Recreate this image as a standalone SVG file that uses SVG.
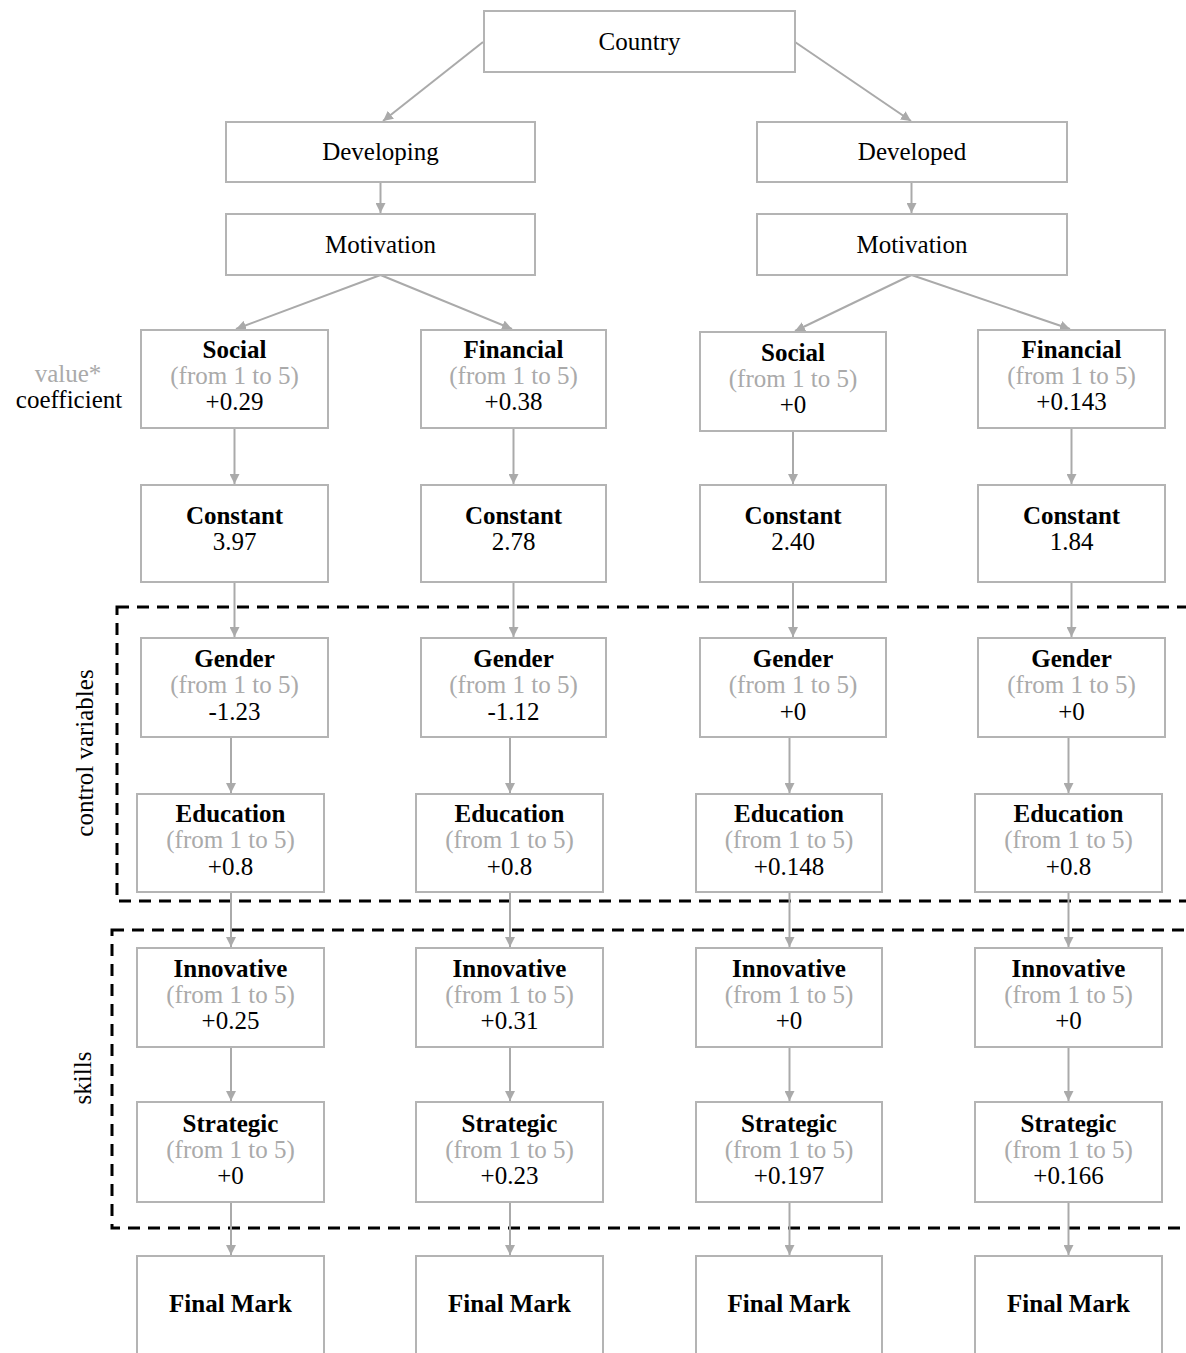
<svg xmlns="http://www.w3.org/2000/svg" width="1186" height="1353" viewBox="0 0 1186 1353">
<style>
.box{fill:#fff;stroke:#b4b4b4;stroke-width:2}
text{font-family:'Liberation Serif','DejaVu Serif',serif;font-size:25px;text-anchor:middle;fill:#000}
.t{font-weight:bold}
.g{fill:#aaa}
.c line{stroke:#aaa;stroke-width:2;marker-end:url(#ah)}
.d{fill:none;stroke:#000;stroke-width:3;stroke-dasharray:12 8}
</style>
<defs>
<marker id="ah" viewBox="0 0 10 10" refX="10" refY="5" markerWidth="5" markerHeight="5" orient="auto" markerUnits="strokeWidth">
<path d="M0,0 L10,5 L0,10 z" fill="#aaa"/>
</marker>
</defs>
<rect width="1186" height="1353" fill="#fff"/>

<g id="groups">
<rect class="d" x="117" y="607" width="1090" height="294"/>
<rect class="d" x="112" y="930" width="1095" height="298"/>
<text transform="translate(93,753) rotate(-90)">control variables</text>
<text transform="translate(91,1078) rotate(-90)">skills</text>
<text x="68" y="382" class="g">value*</text>
<text x="69" y="408">coefficient</text>
</g>

<g class="c" id="connectors">
<line x1="483" y1="42" x2="383" y2="121"/>
<line x1="795" y1="42" x2="911" y2="121"/>
<line x1="380.5" y1="182" x2="380.5" y2="213"/>
<line x1="911.5" y1="182" x2="911.5" y2="213"/>
<line x1="380.5" y1="275" x2="236" y2="329"/>
<line x1="380.5" y1="275" x2="512" y2="329"/>
<line x1="911.5" y1="275" x2="795" y2="331"/>
<line x1="911.5" y1="275" x2="1070" y2="329"/>
<line x1="234.5" y1="428" x2="234.5" y2="484"/>
<line x1="513.5" y1="428" x2="513.5" y2="484"/>
<line x1="793" y1="431" x2="793" y2="484"/>
<line x1="1071.5" y1="428" x2="1071.5" y2="484"/>
<line x1="234.5" y1="582" x2="234.5" y2="637"/>
<line x1="513.5" y1="582" x2="513.5" y2="637"/>
<line x1="793" y1="582" x2="793" y2="637"/>
<line x1="1071.5" y1="582" x2="1071.5" y2="637"/>
<line x1="231" y1="737" x2="231" y2="793"/>
<line x1="510" y1="737" x2="510" y2="793"/>
<line x1="789.5" y1="737" x2="789.5" y2="793"/>
<line x1="1068.5" y1="737" x2="1068.5" y2="793"/>
<line x1="231" y1="892" x2="231" y2="947"/>
<line x1="510" y1="892" x2="510" y2="947"/>
<line x1="789.5" y1="892" x2="789.5" y2="947"/>
<line x1="1068.5" y1="892" x2="1068.5" y2="947"/>
<line x1="231" y1="1047" x2="231" y2="1101"/>
<line x1="510" y1="1047" x2="510" y2="1101"/>
<line x1="789.5" y1="1047" x2="789.5" y2="1101"/>
<line x1="1068.5" y1="1047" x2="1068.5" y2="1101"/>
<line x1="231" y1="1202" x2="231" y2="1255"/>
<line x1="510" y1="1202" x2="510" y2="1255"/>
<line x1="789.5" y1="1202" x2="789.5" y2="1255"/>
<line x1="1068.5" y1="1202" x2="1068.5" y2="1255"/>
</g>

<g id="country"><rect class="box" x="484" y="11" width="311" height="61"/><text x="639.5" y="50">Country</text></g>
<g id="developing"><rect class="box" x="226" y="122" width="309" height="60"/><text x="380.5" y="160">Developing</text></g>
<g id="developed"><rect class="box" x="757" y="122" width="310" height="60"/><text x="912" y="160">Developed</text></g>
<g id="motivation1"><rect class="box" x="226" y="214" width="309" height="61"/><text x="380.5" y="253">Motivation</text></g>
<g id="motivation2"><rect class="box" x="757" y="214" width="310" height="61"/><text x="912" y="253">Motivation</text></g>

<g id="social1"><rect class="box" x="141" y="330" width="187" height="98"/><text x="234.5" y="358" class="t">Social</text><text x="234.5" y="384" class="g">(from 1 to 5)</text><text x="234.5" y="410">+0.29</text></g>
<g id="financial1"><rect class="box" x="421" y="330" width="185" height="98"/><text x="513.5" y="358" class="t">Financial</text><text x="513.5" y="384" class="g">(from 1 to 5)</text><text x="513.5" y="410">+0.38</text></g>
<g id="social2"><rect class="box" x="700" y="332" width="186" height="99"/><text x="793" y="361" class="t">Social</text><text x="793" y="387" class="g">(from 1 to 5)</text><text x="793" y="413">+0</text></g>
<g id="financial2"><rect class="box" x="978" y="330" width="187" height="98"/><text x="1071.5" y="358" class="t">Financial</text><text x="1071.5" y="384" class="g">(from 1 to 5)</text><text x="1071.5" y="410">+0.143</text></g>

<g id="constant1"><rect class="box" x="141" y="485" width="187" height="97"/><text x="234.5" y="524" class="t">Constant</text><text x="234.5" y="550">3.97</text></g>
<g id="constant2"><rect class="box" x="421" y="485" width="185" height="97"/><text x="513.5" y="524" class="t">Constant</text><text x="513.5" y="550">2.78</text></g>
<g id="constant3"><rect class="box" x="700" y="485" width="186" height="97"/><text x="793" y="524" class="t">Constant</text><text x="793" y="550">2.40</text></g>
<g id="constant4"><rect class="box" x="978" y="485" width="187" height="97"/><text x="1071.5" y="524" class="t">Constant</text><text x="1071.5" y="550">1.84</text></g>

<g id="gender1"><rect class="box" x="141" y="638" width="187" height="99"/><text x="234.5" y="667" class="t">Gender</text><text x="234.5" y="693" class="g">(from 1 to 5)</text><text x="234.5" y="720">-1.23</text></g>
<g id="gender2"><rect class="box" x="421" y="638" width="185" height="99"/><text x="513.5" y="667" class="t">Gender</text><text x="513.5" y="693" class="g">(from 1 to 5)</text><text x="513.5" y="720">-1.12</text></g>
<g id="gender3"><rect class="box" x="700" y="638" width="186" height="99"/><text x="793" y="667" class="t">Gender</text><text x="793" y="693" class="g">(from 1 to 5)</text><text x="793" y="720">+0</text></g>
<g id="gender4"><rect class="box" x="978" y="638" width="187" height="99"/><text x="1071.5" y="667" class="t">Gender</text><text x="1071.5" y="693" class="g">(from 1 to 5)</text><text x="1071.5" y="720">+0</text></g>

<g id="education1"><rect class="box" x="137" y="794" width="187" height="98"/><text x="230.5" y="822" class="t">Education</text><text x="230.5" y="848" class="g">(from 1 to 5)</text><text x="230.5" y="875">+0.8</text></g>
<g id="education2"><rect class="box" x="416" y="794" width="187" height="98"/><text x="509.5" y="822" class="t">Education</text><text x="509.5" y="848" class="g">(from 1 to 5)</text><text x="509.5" y="875">+0.8</text></g>
<g id="education3"><rect class="box" x="696" y="794" width="186" height="98"/><text x="789" y="822" class="t">Education</text><text x="789" y="848" class="g">(from 1 to 5)</text><text x="789" y="875">+0.148</text></g>
<g id="education4"><rect class="box" x="975" y="794" width="187" height="98"/><text x="1068.5" y="822" class="t">Education</text><text x="1068.5" y="848" class="g">(from 1 to 5)</text><text x="1068.5" y="875">+0.8</text></g>

<g id="innovative1"><rect class="box" x="137" y="948" width="187" height="99"/><text x="230.5" y="977" class="t">Innovative</text><text x="230.5" y="1003" class="g">(from 1 to 5)</text><text x="230.5" y="1029">+0.25</text></g>
<g id="innovative2"><rect class="box" x="416" y="948" width="187" height="99"/><text x="509.5" y="977" class="t">Innovative</text><text x="509.5" y="1003" class="g">(from 1 to 5)</text><text x="509.5" y="1029">+0.31</text></g>
<g id="innovative3"><rect class="box" x="696" y="948" width="186" height="99"/><text x="789" y="977" class="t">Innovative</text><text x="789" y="1003" class="g">(from 1 to 5)</text><text x="789" y="1029">+0</text></g>
<g id="innovative4"><rect class="box" x="975" y="948" width="187" height="99"/><text x="1068.5" y="977" class="t">Innovative</text><text x="1068.5" y="1003" class="g">(from 1 to 5)</text><text x="1068.5" y="1029">+0</text></g>

<g id="strategic1"><rect class="box" x="137" y="1102" width="187" height="100"/><text x="230.5" y="1132" class="t">Strategic</text><text x="230.5" y="1158" class="g">(from 1 to 5)</text><text x="230.5" y="1184">+0</text></g>
<g id="strategic2"><rect class="box" x="416" y="1102" width="187" height="100"/><text x="509.5" y="1132" class="t">Strategic</text><text x="509.5" y="1158" class="g">(from 1 to 5)</text><text x="509.5" y="1184">+0.23</text></g>
<g id="strategic3"><rect class="box" x="696" y="1102" width="186" height="100"/><text x="789" y="1132" class="t">Strategic</text><text x="789" y="1158" class="g">(from 1 to 5)</text><text x="789" y="1184">+0.197</text></g>
<g id="strategic4"><rect class="box" x="975" y="1102" width="187" height="100"/><text x="1068.5" y="1132" class="t">Strategic</text><text x="1068.5" y="1158" class="g">(from 1 to 5)</text><text x="1068.5" y="1184">+0.166</text></g>

<g id="final1"><rect class="box" x="137" y="1256" width="187" height="110"/><text x="230.5" y="1312" class="t">Final Mark</text></g>
<g id="final2"><rect class="box" x="416" y="1256" width="187" height="110"/><text x="509.5" y="1312" class="t">Final Mark</text></g>
<g id="final3"><rect class="box" x="696" y="1256" width="186" height="110"/><text x="789" y="1312" class="t">Final Mark</text></g>
<g id="final4"><rect class="box" x="975" y="1256" width="187" height="110"/><text x="1068.5" y="1312" class="t">Final Mark</text></g>
</svg>
